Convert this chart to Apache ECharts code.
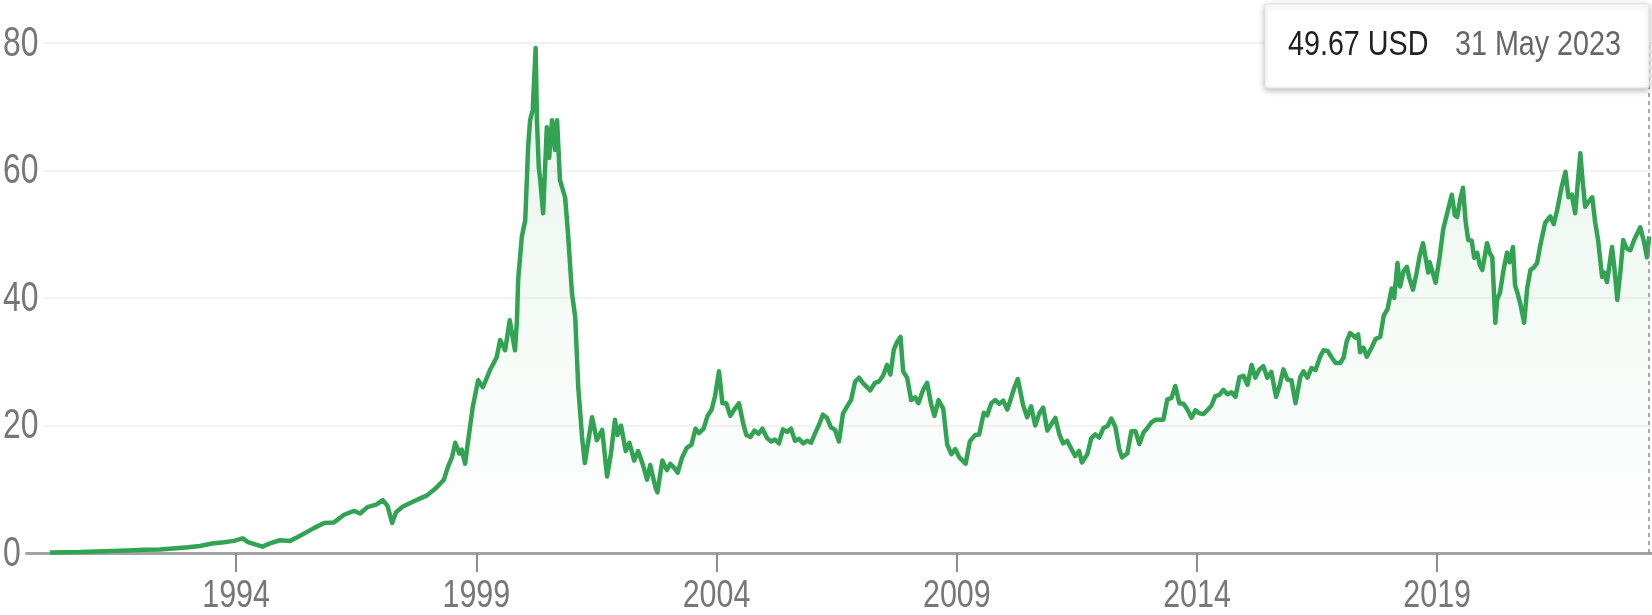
<!DOCTYPE html>
<html>
<head>
<meta charset="utf-8">
<title>Share price, 1990 – 2023</title>
<script src="https://cdn.jsdelivr.net/npm/echarts@6/dist/echarts.min.js"></script>
<style>
  html, body { margin: 0; padding: 0; background: #fff; }
  #chart { width: 1652px; height: 615px; }
</style>
</head>
<body>
<div id="chart"></div>
<script>
// Closing prices in USD, [date, close], split into decades.
const closes1990s = [
  ['1990-02-16', 0.08], ['1990-06-01', 0.12], ['1990-10-01', 0.15], ['1991-02-01', 0.25],
  ['1991-06-01', 0.30], ['1991-10-01', 0.40], ['1992-02-01', 0.50], ['1992-06-01', 0.55],
  ['1992-10-01', 0.75], ['1993-01-01', 0.90], ['1993-04-01', 1.10], ['1993-07-01', 1.50],
  ['1993-10-01', 1.70], ['1993-12-15', 1.90], ['1994-02-20', 2.30], ['1994-04-01', 1.70],
  ['1994-06-01', 1.30], ['1994-07-20', 1.00], ['1994-09-15', 1.50], ['1994-12-01', 2.00],
  ['1995-02-15', 1.90], ['1995-04-15', 2.50], ['1995-06-15', 3.20], ['1995-08-15', 3.90],
  ['1995-11-01', 4.70], ['1996-01-15', 4.80], ['1996-04-01', 6.00], ['1996-06-15', 6.60],
  ['1996-08-01', 6.20], ['1996-09-25', 7.20], ['1996-12-01', 7.60], ['1997-01-20', 8.30],
  ['1997-02-25', 7.40], ['1997-04-01', 4.70], ['1997-05-01', 6.40], ['1997-06-15', 7.20],
  ['1997-09-01', 8.00], ['1997-11-05', 8.60], ['1997-12-20', 9.00], ['1998-03-01', 10.2],
  ['1998-04-30', 11.5], ['1998-05-30', 13.5], ['1998-06-30', 15.0], ['1998-07-25', 17.3],
  ['1998-08-25', 15.6], ['1998-09-12', 16.2], ['1998-10-08', 14.0], ['1998-10-24', 16.6],
  ['1998-12-05', 22.9], ['1999-01-15', 27.1], ['1999-02-20', 26.0], ['1999-04-15', 28.7],
  ['1999-06-05', 30.7], ['1999-07-01', 33.4], ['1999-08-08', 31.8], ['1999-09-12', 36.5],
  ['1999-10-22', 31.8], ['1999-11-06', 36.5], ['1999-11-15', 42.8], ['1999-12-13', 49.6]
];

const closes2000s = [
  ['2000-01-08', 52.2], ['2000-01-30', 63.7], ['2000-02-14', 67.9], ['2000-03-05', 69.5],
  ['2000-03-27', 79.2], ['2000-04-06', 67.9], ['2000-04-20', 60.5], ['2000-05-01', 58.5],
  ['2000-05-23', 53.3], ['2000-06-20', 66.8], ['2000-07-08', 62.0], ['2000-07-30', 67.9],
  ['2000-08-22', 63.2], ['2000-09-06', 67.9], ['2000-09-28', 58.5], ['2000-11-06', 55.8],
  ['2000-11-28', 50.2], ['2000-12-28', 40.8], ['2001-01-22', 37.0], ['2001-02-14', 26.0],
  ['2001-03-15', 18.2], ['2001-04-05', 14.1], ['2001-05-30', 21.3], ['2001-07-05', 17.7],
  ['2001-08-15', 19.3], ['2001-09-21', 12.0], ['2001-10-20', 15.5], ['2001-11-20', 20.9],
  ['2001-12-10', 18.5], ['2002-01-05', 20.0], ['2002-02-10', 16.0], ['2002-03-10', 17.3],
  ['2002-04-15', 14.5], ['2002-05-15', 16.0], ['2002-06-18', 14.0], ['2002-07-22', 11.5],
  ['2002-08-15', 13.8], ['2002-09-25', 10.2], ['2002-10-09', 9.5], ['2002-11-15', 14.5],
  ['2002-12-20', 13.0], ['2003-01-15', 14.0], ['2003-02-20', 13.2], ['2003-03-12', 12.6],
  ['2003-04-15', 15.0], ['2003-05-20', 16.5], ['2003-06-25', 17.0], ['2003-07-25', 19.5],
  ['2003-08-20', 18.8], ['2003-09-25', 19.5], ['2003-10-25', 21.5], ['2003-11-25', 22.5],
  ['2003-12-20', 24.5], ['2004-01-20', 28.5], ['2004-02-15', 23.5], ['2004-03-15', 23.5],
  ['2004-04-15', 21.5], ['2004-05-15', 22.5], ['2004-06-20', 23.5], ['2004-07-20', 20.5],
  ['2004-08-15', 18.5], ['2004-09-15', 18.2], ['2004-10-15', 19.2], ['2004-11-15', 18.7],
  ['2004-12-15', 19.5], ['2005-01-20', 18.0], ['2005-02-20', 17.5], ['2005-03-20', 17.8],
  ['2005-04-20', 17.2], ['2005-05-20', 19.4], ['2005-06-20', 19.0], ['2005-07-20', 19.5],
  ['2005-08-20', 17.6], ['2005-09-20', 17.9], ['2005-10-20', 17.2], ['2005-11-20', 17.6],
  ['2005-12-20', 17.3], ['2006-01-20', 18.8], ['2006-02-20', 20.2], ['2006-03-20', 21.7],
  ['2006-04-20', 21.2], ['2006-05-20', 19.7], ['2006-06-20', 19.3], ['2006-07-20', 17.5],
  ['2006-08-20', 21.9], ['2006-09-20', 23.0], ['2006-10-20', 24.0], ['2006-11-20', 26.9],
  ['2006-12-20', 27.5], ['2007-01-20', 26.6], ['2007-02-20', 26.0], ['2007-03-15', 25.5],
  ['2007-04-20', 26.7], ['2007-05-20', 26.9], ['2007-06-20', 27.8], ['2007-07-20', 29.5],
  ['2007-08-15', 28.0], ['2007-09-10', 31.9], ['2007-10-05', 33.1], ['2007-10-31', 33.9],
  ['2007-11-20', 28.5], ['2007-12-20', 27.5], ['2008-01-20', 24.0], ['2008-02-20', 24.4],
  ['2008-03-15', 23.5], ['2008-04-20', 25.6], ['2008-05-20', 26.7], ['2008-06-20', 23.3],
  ['2008-07-15', 21.5], ['2008-08-15', 24.0], ['2008-09-20', 22.6], ['2008-10-20', 17.0],
  ['2008-11-20', 15.5], ['2008-12-20', 16.3], ['2009-01-20', 15.0], ['2009-03-09', 14.0],
  ['2009-04-10', 17.5], ['2009-05-20', 18.5], ['2009-06-20', 18.6], ['2009-07-25', 22.0],
  ['2009-08-20', 21.6], ['2009-09-20', 23.5], ['2009-10-20', 24.0], ['2009-11-20', 23.4],
  ['2009-12-20', 23.9]
];

const closes2010s = [
  ['2010-01-20', 22.5], ['2010-02-10', 23.8], ['2010-03-15', 26.0], ['2010-04-10', 27.3],
  ['2010-05-20', 23.2], ['2010-06-20', 21.3], ['2010-07-20', 23.0], ['2010-08-20', 20.0],
  ['2010-09-20', 21.9], ['2010-10-20', 22.8], ['2010-11-20', 19.2], ['2010-12-20', 20.2],
  ['2011-01-20', 21.2], ['2011-02-20', 18.6], ['2011-03-20', 17.2], ['2011-04-20', 17.6],
  ['2011-05-20', 16.4], ['2011-06-20', 15.2], ['2011-07-20', 16.0], ['2011-08-10', 14.2],
  ['2011-09-20', 15.5], ['2011-10-20', 18.0], ['2011-11-20', 18.6], ['2011-12-20', 18.1],
  ['2012-01-20', 19.6], ['2012-02-20', 19.9], ['2012-03-20', 21.1], ['2012-04-20', 19.8],
  ['2012-05-20', 16.3], ['2012-06-10', 15.0], ['2012-07-20', 15.6], ['2012-08-20', 19.1],
  ['2012-09-20', 19.1], ['2012-10-20', 17.1], ['2012-11-20', 18.9], ['2012-12-20', 19.6],
  ['2013-01-20', 20.5], ['2013-02-20', 20.9], ['2013-03-20', 20.9], ['2013-04-20', 20.9],
  ['2013-05-20', 24.1], ['2013-06-20', 24.3], ['2013-07-20', 26.2], ['2013-08-20', 23.5],
  ['2013-09-20', 23.4], ['2013-10-20', 22.5], ['2013-11-20', 21.2], ['2013-12-20', 22.4],
  ['2014-01-20', 21.9], ['2014-02-20', 21.8], ['2014-03-20', 22.4], ['2014-04-20', 23.1],
  ['2014-05-20', 24.6], ['2014-06-20', 24.8], ['2014-07-20', 25.6], ['2014-08-20', 24.9],
  ['2014-09-20', 25.2], ['2014-10-20', 24.5], ['2014-11-20', 27.6], ['2014-12-20', 27.8],
  ['2015-01-20', 26.4], ['2015-02-20', 29.5], ['2015-03-20', 27.5], ['2015-04-20', 28.8],
  ['2015-05-20', 29.3], ['2015-06-20', 27.5], ['2015-07-20', 28.4], ['2015-08-25', 24.5],
  ['2015-09-20', 26.2], ['2015-10-20', 28.8], ['2015-11-20', 27.2], ['2015-12-20', 27.1],
  ['2016-01-20', 23.5], ['2016-02-25', 27.6], ['2016-03-20', 28.5], ['2016-04-20', 27.5],
  ['2016-05-20', 29.0], ['2016-06-20', 28.7], ['2016-07-25', 30.8], ['2016-08-20', 31.8],
  ['2016-09-20', 31.7], ['2016-10-20', 30.7], ['2016-11-20', 29.8], ['2016-12-25', 29.8],
  ['2017-01-20', 30.7], ['2017-02-12', 33.2], ['2017-03-10', 34.5], ['2017-04-20', 33.8],
  ['2017-05-10', 34.3], ['2017-05-25', 31.5], ['2017-06-20', 32.2], ['2017-07-15', 30.8],
  ['2017-08-20', 32.2], ['2017-09-20', 33.6], ['2017-10-25', 33.9], ['2017-11-20', 37.2],
  ['2017-12-20', 38.3], ['2018-01-20', 41.5], ['2018-02-08', 40.0], ['2018-03-05', 45.5],
  ['2018-03-25', 41.8], ['2018-04-20', 44.2], ['2018-05-15', 44.9], ['2018-06-05', 43.0],
  ['2018-07-01', 41.3], ['2018-07-25', 43.6], ['2018-08-20', 46.5], ['2018-09-15', 48.6],
  ['2018-10-25', 44.0], ['2018-11-05', 45.6], ['2018-12-20', 42.4], ['2019-01-20', 46.5],
  ['2019-02-15', 50.7], ['2019-03-20', 53.5], ['2019-04-22', 56.2], ['2019-05-15', 53.0],
  ['2019-06-02', 52.7], ['2019-06-25', 55.5], ['2019-07-16', 57.3], ['2019-08-05', 52.0],
  ['2019-08-25', 49.1], ['2019-09-20', 49.0], ['2019-10-10', 46.3], ['2019-11-01', 47.1],
  ['2019-11-20', 45.2], ['2019-12-10', 44.4]
];

const closes2020s = [
  ['2020-01-15', 48.6], ['2020-02-05', 47.0], ['2020-02-24', 46.4], ['2020-03-18', 36.1],
  ['2020-04-01', 39.8], ['2020-04-22', 40.8], ['2020-05-20', 44.5], ['2020-06-15', 47.1],
  ['2020-07-05', 45.6], ['2020-07-30', 48.0], ['2020-08-15', 42.0], ['2020-09-02', 40.8],
  ['2020-09-25', 39.0], ['2020-10-23', 36.1], ['2020-11-15', 41.5], ['2020-12-10', 44.4],
  ['2021-01-05', 44.8], ['2021-01-30', 45.5], ['2021-02-20', 48.0], ['2021-04-01', 51.8],
  ['2021-05-10', 52.8], ['2021-06-05', 51.6], ['2021-07-01', 53.8], ['2021-08-05', 57.5],
  ['2021-09-02', 59.8], ['2021-09-25', 55.8], ['2021-10-20', 56.2], ['2021-11-15', 53.3],
  ['2021-12-24', 62.7], ['2022-01-10', 58.5], ['2022-01-30', 54.3], ['2022-02-20', 55.0],
  ['2022-03-25', 55.8], ['2022-04-15', 52.0], ['2022-05-08', 49.1], ['2022-06-08', 43.3],
  ['2022-06-25', 44.0], ['2022-07-15', 42.5], ['2022-08-22', 48.0], ['2022-09-10', 44.5],
  ['2022-10-01', 39.7], ['2022-10-25', 44.2], ['2022-11-15', 49.1], ['2022-12-10', 47.8],
  ['2023-01-08', 47.5], ['2023-02-10', 49.3], ['2023-03-25', 51.1], ['2023-04-20', 49.0],
  ['2023-05-15', 46.4], ['2023-05-31', 49.67]
];

// Axis labels
const yearTicks = ['1994', '1999', '2004', '2009', '2014', '2019'];
const priceTicks = [0, 20, 40, 60, 80];
const monthNames = ['Jan', 'Feb', 'Mar', 'Apr', 'May', 'Jun', 'Jul', 'Aug', 'Sep', 'Oct', 'Nov', 'Dec'];
const currency = 'USD';

const FONT = "'Liberation Sans', Arial, sans-serif";
const LABEL_GREY = '#777777';
const closes = closes1990s.concat(closes2000s, closes2010s, closes2020s);
const last = closes[closes.length - 1];
const toTime = iso => Date.parse(iso + 'T00:00:00Z');
const tickTimes = yearTicks.map(y => Date.UTC(+y, 0, 1));
const seriesData = closes.map(([d, v]) => [toTime(d), v]);

function formatDay(iso) {
  const [y, m, d] = iso.split('-').map(Number);
  return d + ' ' + monthNames[m - 1] + ' ' + y;
}

const chart = echarts.init(document.getElementById('chart'), null, { renderer: 'canvas' });

chart.setOption({
  animation: false,
  backgroundColor: '#ffffff',
  grid: { left: 20, right: 0, top: 43, bottom: 62, containLabel: false },
  xAxis: {
    // a linear axis of timestamps, so the year ticks can sit on chosen dates
    type: 'value',
    min: Date.UTC(1989, 6, 3),
    max: Date.UTC(2023, 5, 22),
    axisLine: { show: true, lineStyle: { color: '#a3a3a3', width: 3 } },
    axisTick: {
      show: true,
      customValues: tickTimes,
      length: 19,
      lineStyle: { color: '#8c8c8c', width: 2 }
    },
    // labels are drawn below as narrowed text
    axisLabel: { show: false },
    splitLine: { show: false }
  },
  yAxis: {
    type: 'value',
    min: 0,
    max: 80,
    interval: 20,
    axisLine: { show: false },
    axisTick: { show: false },
    axisLabel: { show: false },
    splitLine: { show: true, lineStyle: { color: '#f2f2f2', width: 2 } }
  },
  series: [{
    type: 'line',
    data: seriesData,
    showSymbol: false,
    symbol: 'none',
    lineStyle: { color: '#31a352', width: 4.5, join: 'round' },
    areaStyle: {
      color: new echarts.graphic.LinearGradient(0, 0, 0, 1, [
        { offset: 0, color: 'rgba(49,163,82,0.16)' },
        { offset: 1, color: 'rgba(49,163,82,0.0)' }
      ])
    },
    markLine: {
      silent: true,
      symbol: 'none',
      label: { show: false },
      lineStyle: { color: '#8a8a8a', width: 1.5, type: [4, 4] },
      data: [{ xAxis: toTime(last[0]) }]
    }
  }]
});

// Axis labels in a condensed setting, placed through the axes' own scales.
const labelGraphics = [];
tickTimes.forEach((t, i) => {
  const [px] = chart.convertToPixel({ gridIndex: 0 }, [t, 0]);
  labelGraphics.push({
    type: 'text',
    id: 'xl' + i,
    x: px,
    y: 596,
    scaleX: 0.78,
    z: 50,
    style: {
      text: yearTicks[i],
      fill: LABEL_GREY,
      font: '39px ' + FONT,
      align: 'center',
      verticalAlign: 'middle'
    }
  });
});
priceTicks.forEach((v, i) => {
  const [, py] = chart.convertToPixel({ gridIndex: 0 }, [tickTimes[0], v]);
  labelGraphics.push({
    type: 'text',
    id: 'yl' + i,
    x: 3,
    y: py + 1,
    scaleX: 0.76,
    z: 50,
    style: {
      text: String(v),
      fill: LABEL_GREY,
      font: '42px ' + FONT,
      align: 'left',
      verticalAlign: 'middle',
      backgroundColor: '#ffffff',
      padding: [0, 6, 0, 0]
    }
  });
});

// Value box for the latest close.
const boxGraphics = [
  {
    type: 'rect',
    id: 'box',
    x: 1265,
    y: 4,
    z: 100,
    shape: { x: 0, y: 0, width: 384, height: 84, r: 2 },
    style: {
      fill: '#ffffff',
      stroke: '#e3e3e3',
      lineWidth: 1,
      shadowBlur: 6,
      shadowOffsetY: 2,
      shadowColor: 'rgba(0,0,0,0.28)'
    }
  },
  {
    type: 'text',
    id: 'boxValue',
    x: 1288,
    y: 45,
    z: 101,
    scaleX: 0.82,
    style: {
      text: last[1].toFixed(2) + ' ' + currency,
      fill: '#202124',
      font: '35px ' + FONT,
      align: 'left',
      verticalAlign: 'middle'
    }
  },
  {
    type: 'text',
    id: 'boxDate',
    x: 1455,
    y: 45,
    z: 101,
    scaleX: 0.82,
    style: {
      text: formatDay(last[0]),
      fill: '#666666',
      font: '35px ' + FONT,
      align: 'left',
      verticalAlign: 'middle'
    }
  }
];

chart.setOption({ graphic: labelGraphics.concat(boxGraphics) });
</script>
</body>
</html>
